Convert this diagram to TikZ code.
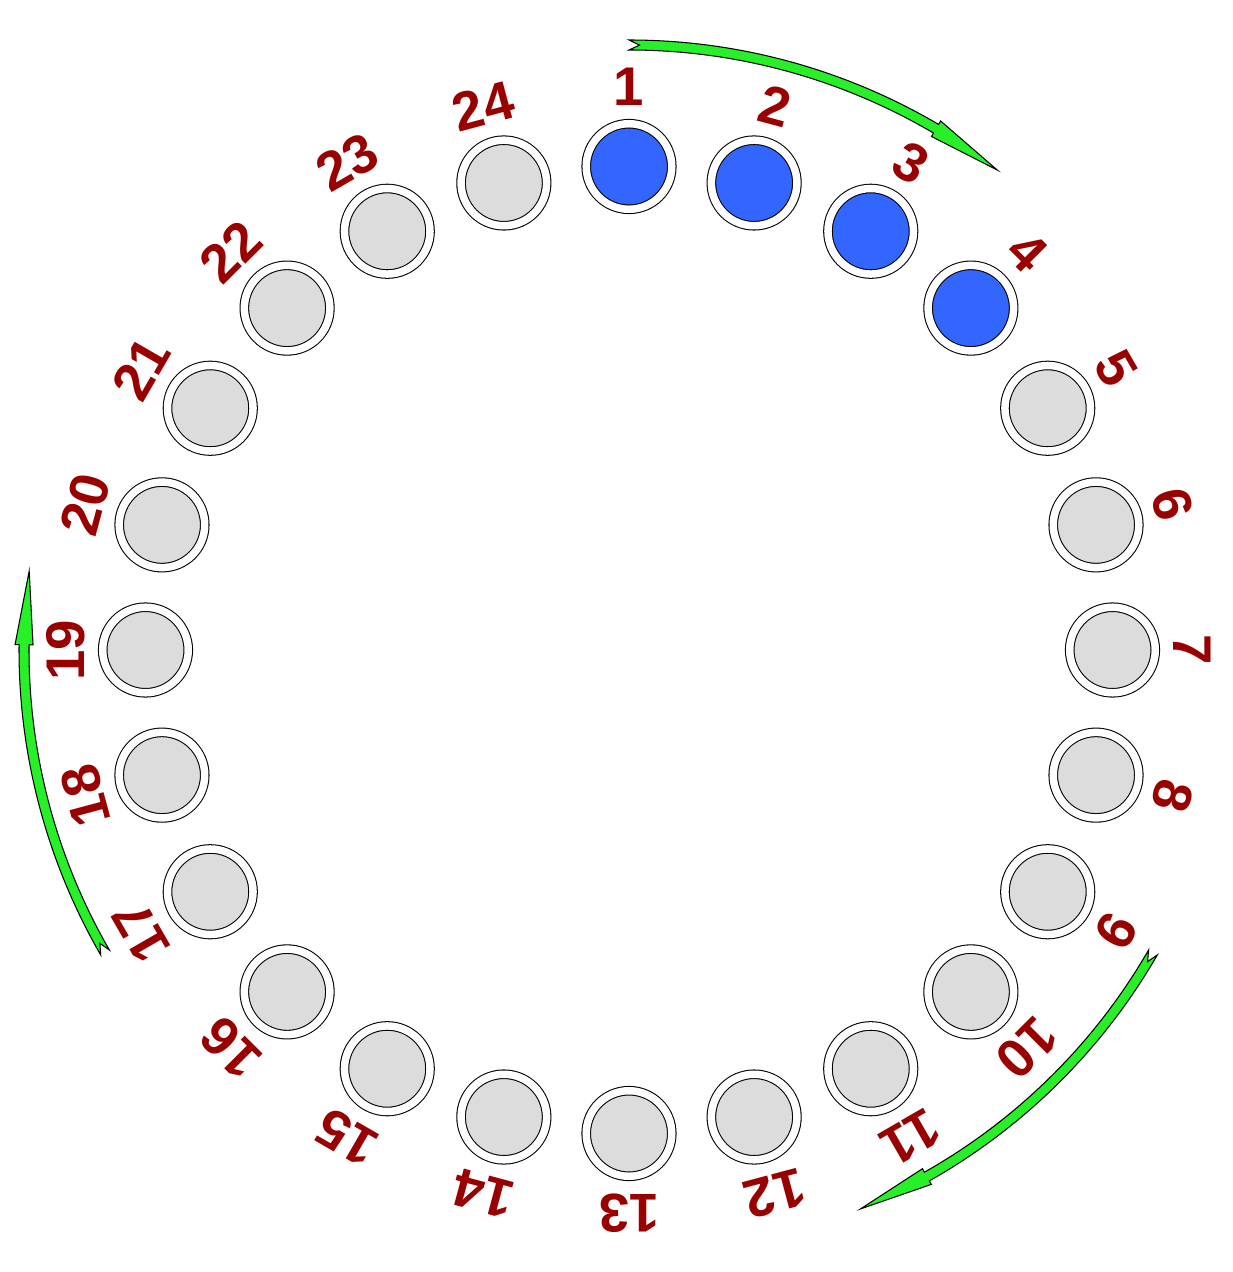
\documentclass[tikz,border=0pt]{standalone}
\usepackage{fontspec}
\setmainfont{Liberation Sans}
\usepackage{tikz}

\definecolor{slotblue}{RGB}{51,102,255}
\definecolor{slotgray}{RGB}{220,220,220}
\definecolor{numred}{RGB}{153,0,0}
\definecolor{turngreen}{RGB}{40,240,40}

\begin{document}
\begin{tikzpicture}[x=0.01cm, y=0.01cm,
    slot/.style={circle, draw=black, line width=0.3pt, double=white, double distance=0.075cm,
                 fill=slotgray, inner sep=0pt, minimum size=0.855cm},
    full/.style={slot, fill=slotblue},
    num/.style={text=numred, font=\fontsize{15.5pt}{18pt}\selectfont\bfseries, inner sep=0pt},
    turn/.style={draw=black, line width=0.3pt, fill=turngreen}]
                \useasboundingbox (-629,-622) rectangle (603,650);

                \node[full] (c1) at (90:483.5) {};
                \node[full] (c2) at (75:483.5) {};
                \node[full] (c3) at (60:483.5) {};
                \node[full] (c4) at (45:483.5) {};
                \node[slot] (c5) at (30:483.5) {};
                \node[slot] (c6) at (15:483.5) {};
                \node[slot] (c7) at (0:483.5) {};
                \node[slot] (c8) at (-15:483.5) {};
                \node[slot] (c9) at (-30:483.5) {};
                \node[slot] (c10) at (-45:483.5) {};
                \node[slot] (c11) at (-60:483.5) {};
                \node[slot] (c12) at (-75:483.5) {};
                \node[slot] (c13) at (-90:483.5) {};
                \node[slot] (c14) at (-105:483.5) {};
                \node[slot] (c15) at (-120:483.5) {};
                \node[slot] (c16) at (-135:483.5) {};
                \node[slot] (c17) at (-150:483.5) {};
                \node[slot] (c18) at (-165:483.5) {};
                \node[slot] (c19) at (-180:483.5) {};
                \node[slot] (c20) at (-195:483.5) {};
                \node[slot] (c21) at (-210:483.5) {};
                \node[slot] (c22) at (-225:483.5) {};
                \node[slot] (c23) at (-240:483.5) {};
                \node[slot] (c24) at (-255:483.5) {};

                \node[num, rotate=0] (n1) at (90:563) {1};
                \node[num, rotate=-15] (n2) at (75:563) {2};
                \node[num, rotate=-30] (n3) at (60:563) {3};
                \node[num, rotate=-45] (n4) at (45:563) {4};
                \node[num, rotate=-60] (n5) at (30:563) {5};
                \node[num, rotate=-75] (n6) at (15:563) {6};
                \node[num, rotate=-90] (n7) at (0:563) {7};
                \node[num, rotate=-105] (n8) at (-15:563) {8};
                \node[num, rotate=-120] (n9) at (-30:563) {9};
                \node[num, rotate=-135] (n10) at (-45:563) {10};
                \node[num, rotate=-150] (n11) at (-60:563) {11};
                \node[num, rotate=-165] (n12) at (-75:563) {12};
                \node[num, rotate=-180] (n13) at (-90:563) {13};
                \node[num, rotate=-195] (n14) at (-105:563) {14};
                \node[num, rotate=-210] (n15) at (-120:563) {15};
                \node[num, rotate=-225] (n16) at (-135:563) {16};
                \node[num, rotate=-240] (n17) at (-150:563) {17};
                \node[num, rotate=-255] (n18) at (-165:563) {18};
                \node[num, rotate=-270] (n19) at (-180:563) {19};
                \node[num, rotate=-285] (n20) at (-195:563) {20};
                \node[num, rotate=-300] (n21) at (-210:563) {21};
                \node[num, rotate=-315] (n22) at (-225:563) {22};
                \node[num, rotate=-330] (n23) at (-240:563) {23};
                \node[num, rotate=-345] (n24) at (-255:563) {24};

                % direction of turning
                \draw[turn] (90:610) arc[start angle=90, end angle=59.5, radius=610]
                    -- (59.5:614) -- (52.5:605) -- (59.5:596) -- (59.5:600)
                    arc[start angle=59.5, end angle=90, radius=600] -- (89:605) -- cycle;
                \draw[turn] (-30:610) arc[start angle=-30, end angle=-60.5, radius=610]
                    -- (-60.5:614) -- (-67.5:605) -- (-60.5:596) -- (-60.5:600)
                    arc[start angle=-60.5, end angle=-30, radius=600] -- (-31:605) -- cycle;
                \draw[turn] (210:610) arc[start angle=210, end angle=179.5, radius=610]
                    -- (179.5:614) -- (172.5:605) -- (179.5:596) -- (179.5:600)
                    arc[start angle=179.5, end angle=210, radius=600] -- (209:605) -- cycle;
\end{tikzpicture}
\end{document}
